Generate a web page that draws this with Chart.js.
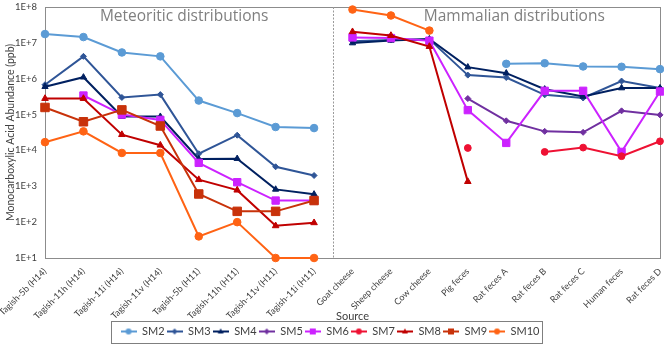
<!DOCTYPE html>
<html><head><meta charset="utf-8">
<script src="https://cdn.jsdelivr.net/npm/chart.js@4/dist/chart.umd.min.js"></script>
<style>html,body{margin:0;padding:0;background:#fff}#wrap{width:664px;height:347px}</style>
</head><body><div id="wrap"><canvas id="c" width="664" height="347"></canvas></div>
<script>
const categories = ['Tagish-5b (H14)','Tagish-11h (H14)','Tagish-11i (H14)','Tagish-11v (H14)','Tagish-5b (H11)','Tagish-11h (H11)','Tagish-11v (H11)','Tagish-11i (H11)','Goat cheese','Sheep cheese','Cow cheese','Pig feces','Rat feces A','Rat feces B','Rat feces C','Human feces','Rat feces D'];
const SM2  = [1.76e7,1.45e7,5.4e6,4.2e6,2.46e5,1.1e5,4.5e4,4.2e4,null,null,null,null,2.6e6,2.7e6,2.2e6,2.15e6,1.85e6];
const SM3  = [6.8e5,4.2e6,3.0e5,3.6e5,8.1e3,2.66e4,3.5e3,2.0e3,1.1e7,1.2e7,1.25e7,1.26e6,1.08e6,3.55e5,2.9e5,8.6e5,5.5e5];
const SM4  = [6.0e5,1.1e6,8.8e4,8.8e4,5.8e3,5.9e3,8.2e2,6.0e2,9.9e6,1.17e7,1.28e7,2.1e6,1.43e6,5.1e5,3.2e5,5.5e5,5.5e5];
const SM5  = [null,null,null,null,null,null,null,null,null,null,null,2.8e5,6.7e4,3.4e4,3.2e4,1.27e5,9.8e4];
const SM6  = [null,3.4e5,1.0e5,7.1e4,4.5e3,1.3e3,4.0e2,4.0e2,1.42e7,1.36e7,1.15e7,1.33e5,1.62e4,4.6e5,4.6e5,9.1e3,4.4e5];
const SM7  = [null,null,null,null,null,null,null,null,null,null,null,1.17e4,null,9.1e3,1.2e4,6.9e3,1.8e4];
const SM8  = [2.8e5,2.8e5,2.76e4,1.4e4,1.53e3,7.8e2,79,96,2.04e7,1.6e7,7.9e6,1.35e3,null,null,null,null,null];
const SM9  = [1.58e5,6.3e4,1.35e5,4.8e4,6.1e2,2.0e2,2.0e2,4.0e2,null,null,null,null,null,null,null,null,null];
const SM10 = [1.7e4,3.4e4,8.5e3,8.5e3,40,100,10,10,8.5e7,5.8e7,2.2e7,null,null,null,null,null,null];
const yTicks = [1e1,1e2,1e3,1e4,1e5,1e6,1e7,1e8];
const seriesNames = ['SM2','SM3','SM4','SM5','SM6','SM7','SM8','SM9','SM10'];
const panelTitles = ['Meteoritic distributions','Mammalian distributions'];

const seriesData = [SM2,SM3,SM4,SM5,SM6,SM7,SM8,SM9,SM10];
const colors = ['#5B9BD5','#2F5597','#002060','#7030A0','#CC22FF','#EE1133','#C00000','#C8320A','#FF6314'];
const markers = ['circle','rectRot','triangle','rectRot','rect','circle','triangle','rect','circle'];
const radii = [3.8,3,3.6,3,5.2,3.4,3.8,6,3.8];

function legendIcon(color, style){
  const c=document.createElement('canvas'); c.width=16; c.height=10;
  const g=c.getContext('2d');
  g.strokeStyle=color; g.lineWidth=2; g.beginPath(); g.moveTo(0,5); g.lineTo(16,5); g.stroke();
  g.fillStyle=color; g.beginPath();
  const cx=8, cy=5, r=3;
  if(style==='circle'){g.arc(cx,cy,r,0,Math.PI*2);}
  else if(style==='rect'){g.rect(cx-r,cy-r,2*r,2*r);}
  else if(style==='rectRot'){g.moveTo(cx,cy-r);g.lineTo(cx+r,cy);g.lineTo(cx,cy+r);g.lineTo(cx-r,cy);g.closePath();}
  else {g.moveTo(cx,cy-r);g.lineTo(cx+r,cy+r*0.7);g.lineTo(cx-r,cy+r*0.7);g.closePath();}
  g.fill();
  return c;
}
const icons = colors.map((c,i)=>legendIcon(c,markers[i]));

Chart.defaults.font.family = 'Lato';
Chart.defaults.color = '#404040';

const decor = {
  id:'decor',
  beforeDatasetsDraw(chart){
    const {ctx, chartArea:a, scales:{x}} = chart;
    ctx.save();
    ctx.strokeStyle='#8c8c8c'; ctx.lineWidth=1;
    ctx.strokeRect(Math.round(a.left)+0.5, Math.round(a.top)+0.5, Math.round(a.right-a.left), Math.round(a.bottom-a.top));
    const xd = (x.getPixelForValue(7)+x.getPixelForValue(8))/2;
    ctx.setLineDash([2,1.5]); ctx.strokeStyle='#9a9a9a';
    ctx.beginPath(); ctx.moveTo(Math.round(xd)+0.5, a.top); ctx.lineTo(Math.round(xd)+0.5, a.bottom); ctx.stroke();
    ctx.setLineDash([]);
    ctx.fillStyle='#7f7f7f'; ctx.font='15.5px "Open Sans"'; ctx.textAlign='center'; ctx.textBaseline='middle';
    ctx.fillText(panelTitles[0], x.getPixelForValue(3.62), a.top+10);
    ctx.fillText(panelTitles[1], x.getPixelForValue(12.21), a.top+10);
    ctx.restore();
  },
  afterDraw(chart){
    const {ctx} = chart;
    const hb = chart.legend.legendHitBoxes;
    let l=Infinity,r=-Infinity,t=Infinity,b=-Infinity;
    hb.forEach(h=>{l=Math.min(l,h.left);r=Math.max(r,h.left+h.width);t=Math.min(t,h.top);b=Math.max(b,h.top+h.height);});
    ctx.save();
    ctx.strokeStyle='#7f7f7f'; ctx.lineWidth=1;
    ctx.strokeRect(Math.round(l-10)+0.5, Math.round(t-5)+0.5, Math.round(r-l+12), Math.round(b-t+11));
    ctx.restore();
  }
};

new Chart(document.getElementById('c'), {
  type:'line',
  data:{
    labels: categories,
    datasets: seriesData.map((d,i)=>({
      label: seriesNames[i], data: d,
      borderColor: colors[i], backgroundColor: colors[i],
      pointStyle: markers[i], pointRadius: radii[i], pointHoverRadius: radii[i],
      pointBorderWidth: 1, borderWidth: 2, tension: 0, spanGaps: false, clip: false, order: -i,
      segment: { borderColor: ctx => ctx.p0DataIndex === 7 ? 'rgba(0,0,0,0)' : undefined }
    }))
  },
  options:{
    responsive:false, animation:false,
    layout:{autoPadding:false, padding:{top:7,right:4,left:0,bottom:0}},
    plugins:{
      tooltip:{enabled:false},
      legend:{
        position:'bottom',
        labels:{
          usePointStyle:true, pointStyleWidth:16, boxHeight:10, padding:2,
          font:{size:11,family:'Lato'}, color:'#404040',
          sort:(a,b)=>a.datasetIndex-b.datasetIndex,
          generateLabels:(chart)=>{
            const items = Chart.defaults.plugins.legend.labels.generateLabels(chart);
            items.forEach(it=>{ it.pointStyle = icons[it.datasetIndex]; });
            return items;
          }
        }
      }
    },
    scales:{
      x:{
        grid:{display:false, drawTicks:false}, border:{display:false},
        ticks:{autoSkip:false, maxRotation:45, minRotation:45, font:{size:9}, color:'#404040', padding:8},
        title:{display:true, text:'Source', font:{size:11}, color:'#404040', padding:{top:2,bottom:1}},
        afterFit(s){ s.height = s.chart.height - 258 - s.chart.legend.height; s.paddingLeft = 0; s.paddingRight = 0; }
      },
      y:{
        type:'logarithmic', min:10, max:1e8,
        grid:{display:false, drawTicks:false}, border:{display:false},
        afterBuildTicks(s){ s.ticks = yTicks.map(v=>({value:v, major:true})); },
        ticks:{font:{size:9.5}, color:'#404040', padding:8, callback:(v)=>'1E+'+Math.round(Math.log10(v))},
        title:{display:true, text:'Monocarboxylic Acid Abundance (ppb)', font:{size:10.5}, color:'#404040', padding:{top:4,bottom:2}},
        afterFit(s){ s.width = 45; s.paddingTop = 0; s.paddingBottom = 0; }
      }
    }
  },
  plugins:[decor]
});
</script>
</body></html>
